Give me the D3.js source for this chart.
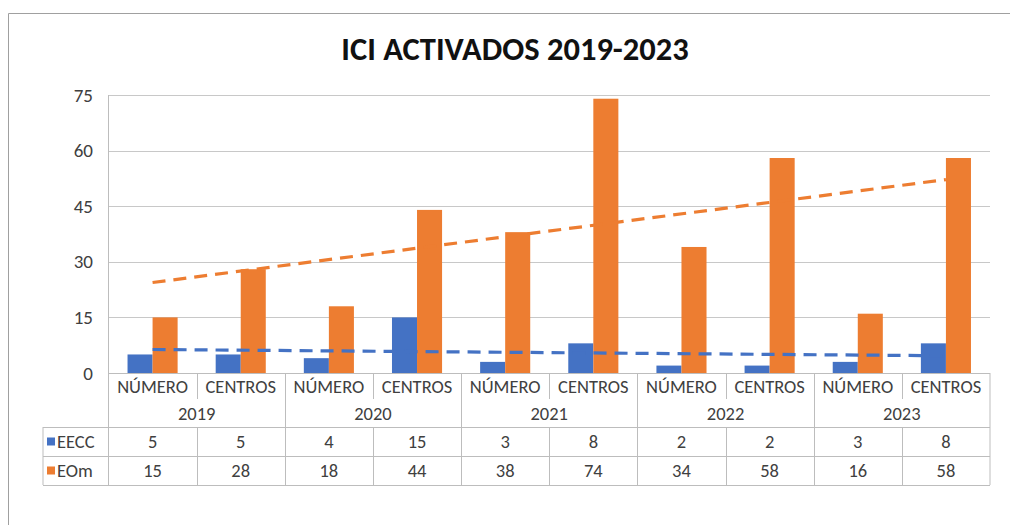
<!DOCTYPE html>
<html>
<head>
<meta charset="utf-8">
<script src="https://cdn.jsdelivr.net/npm/d3@7"></script>
<style>
  html, body { margin: 0; padding: 0; background: #fff; }
  #chart { width: 1010px; height: 525px; }
  text { font-family: Carlito, Calibri, "Liberation Sans Narrow", "Open Sans", sans-serif; }
</style>
</head>
<body>
<div id="chart"></div>
<script>
// chart values
const years = ['2019', '2020', '2021', '2022', '2023'];
const subCats = ['NÚMERO', 'CENTROS'];
const seriesNames = ['EECC', 'EOm'];
const eecc = [5, 5, 4, 15, 3, 8, 2, 2, 3, 8];
const eom = [15, 28, 18, 44, 38, 74, 34, 58, 16, 58];
const yTicks = [0, 15, 30, 45, 60, 75];
const colors = ['#4472C4', '#ED7D31'];

document.addEventListener('DOMContentLoaded', function () {
    const W = 1010, H = 525;
    const svg = d3.select('#chart').append('svg')
        .attr('width', W).attr('height', H);

    // outer chart frame (only top + left edges visible in the crop)
    svg.append('path')
        .attr('d', `M8.5,${H} V13.5 H${W}`)
        .attr('fill', 'none').attr('stroke', '#a0a0a0').attr('stroke-width', 1);

    svg.append('text')
        .attr('x', 515).attr('y', 60)
        .attr('text-anchor', 'middle')
        .attr('font-size', 32.5).attr('font-weight', 'bold')
        .attr('fill', '#111')
        .text('ICI ACTIVADOS 2019-2023');

    const left = 108.5, right = 990, top = 95, bottom = 373;

    // one entry per category (year x sub-category)
    const cats = [];
    years.forEach(y => subCats.forEach(s => cats.push(y + '|' + s)));
    const rows = cats.map((c, i) => ({ key: c, year: c.split('|')[0], sub: c.split('|')[1], vals: [eecc[i], eom[i]] }));

    const x0 = d3.scaleBand().domain(cats).range([left, right]).padding(0);
    const x1 = d3.scaleBand().domain(seriesNames).range([0, x0.bandwidth()])
        .paddingInner(0).paddingOuter(0.76);
    const y = d3.scaleLinear().domain([0, 75]).range([bottom, top]);

    // gridlines
    svg.append('g').selectAll('line').data(yTicks.filter(t => t > 0)).enter()
        .append('line')
        .attr('x1', left).attr('x2', right)
        .attr('y1', d => Math.round(y(d)) + 0.5).attr('y2', d => Math.round(y(d)) + 0.5)
        .attr('stroke', '#c8c8c8').attr('stroke-width', 1.2);

    // y axis labels
    svg.append('g').selectAll('text').data(yTicks).enter()
        .append('text')
        .attr('x', 93).attr('y', d => y(d) + 6.5)
        .attr('text-anchor', 'end')
        .attr('font-size', 19).attr('fill', '#404040')
        .text(d => d);

    // bars
    const groups = svg.append('g').selectAll('g').data(rows).enter()
        .append('g')
        .attr('transform', d => `translate(${x0(d.key)},0)`);
    groups.selectAll('rect')
        .data(d => d.vals.map((v, i) => ({ name: seriesNames[i], v: v, i: i })))
        .enter().append('rect')
        .attr('x', d => x1(d.name))
        .attr('width', x1.bandwidth())
        .attr('y', d => y(d.v))
        .attr('height', d => y(0) - y(d.v))
        .attr('fill', d => colors[d.i]);

    // linear trendlines (least squares on the plotted values)
    function fit(vals) {
        const n = vals.length;
        const xs = vals.map((v, i) => i + 1);
        const mx = d3.mean(xs), my = d3.mean(vals);
        const sxy = d3.sum(vals, (v, i) => (xs[i] - mx) * (v - my));
        const sxx = d3.sum(xs, xv => (xv - mx) * (xv - mx));
        const b = sxy / sxx;
        return [[0, my + b * (1 - mx)], [n - 1, my + b * (n - mx)]];
    }
    const cx = i => x0(cats[i]) + x0.bandwidth() / 2;
    [eecc, eom].forEach((vals, k) => {
        const pts = fit(vals);
        svg.append('line')
            .attr('x1', cx(pts[0][0])).attr('y1', y(pts[0][1]))
            .attr('x2', cx(pts[1][0])).attr('y2', y(pts[1][1]))
            .attr('stroke', colors[k]).attr('stroke-width', 3.2)
            .attr('stroke-dasharray', '13,8');
    });

    // data table
    const tLeft = 43;
    const rowY = [373, 400, 427, 456, 485];
    const lineColor = '#bdbdbd';
    const tbl = svg.append('g').attr('stroke', lineColor).attr('stroke-width', 1);

    // y axis line through the table
    tbl.append('line').attr('x1', left).attr('x2', left).attr('y1', top).attr('y2', rowY[4]);
    tbl.append('line').attr('x1', right).attr('x2', right).attr('y1', bottom).attr('y2', rowY[4]);
    tbl.append('line').attr('x1', left).attr('x2', right).attr('y1', bottom + 0.5).attr('y2', bottom + 0.5);
    [2, 3, 4].forEach(r => {
        tbl.append('line')
            .attr('x1', r === 2 ? left : tLeft).attr('x2', right)
            .attr('y1', rowY[r] + 0.5).attr('y2', rowY[r] + 0.5);
    });
    tbl.append('line').attr('x1', tLeft).attr('x2', tLeft).attr('y1', rowY[2]).attr('y2', rowY[4]);
    tbl.append('line').attr('x1', tLeft).attr('x2', left).attr('y1', rowY[2] + 0.5).attr('y2', rowY[2] + 0.5);
    // column dividers
    cats.forEach((c, i) => {
        if (i === 0) return;
        const xx = Math.round(x0(c)) + 0.5;
        const yearEdge = i % subCats.length === 0;
        tbl.append('line')
            .attr('x1', xx).attr('x2', xx)
            .attr('y1', rowY[0]).attr('y2', yearEdge ? rowY[4] : rowY[1] - 1);
        if (!yearEdge) {
            tbl.append('line')
                .attr('x1', xx).attr('x2', xx)
                .attr('y1', rowY[2]).attr('y2', rowY[4]);
        }
    });

    const txt = svg.append('g').attr('font-size', 18.5).attr('fill', '#404040').attr('text-anchor', 'middle');
    rows.forEach(d => {
        const mid = x0(d.key) + x0.bandwidth() / 2;
        txt.append('text').attr('x', mid).attr('y', 393).text(d.sub);
        txt.append('text').attr('x', mid).attr('y', 448).text(d.vals[0]);
        txt.append('text').attr('x', mid).attr('y', 477).text(d.vals[1]);
    });
    years.forEach((yr, i) => {
        const a = x0(cats[i * 2]), b = x0(cats[i * 2 + 1]) + x0.bandwidth();
        txt.append('text').attr('x', (a + b) / 2).attr('y', 420).text(yr);
    });

    // legend keys in the table
    seriesNames.forEach((s, k) => {
        const cyy = (rowY[k + 2] + rowY[k + 3]) / 2;
        svg.append('rect')
            .attr('x', 47).attr('y', cyy - 4).attr('width', 8).attr('height', 8)
            .attr('fill', colors[k]);
        svg.append('text')
            .attr('x', 57).attr('y', cyy + 6.5)
            .attr('font-size', 18.5).attr('fill', '#404040')
            .text(s);
    });
});
</script>
</body>
</html>
